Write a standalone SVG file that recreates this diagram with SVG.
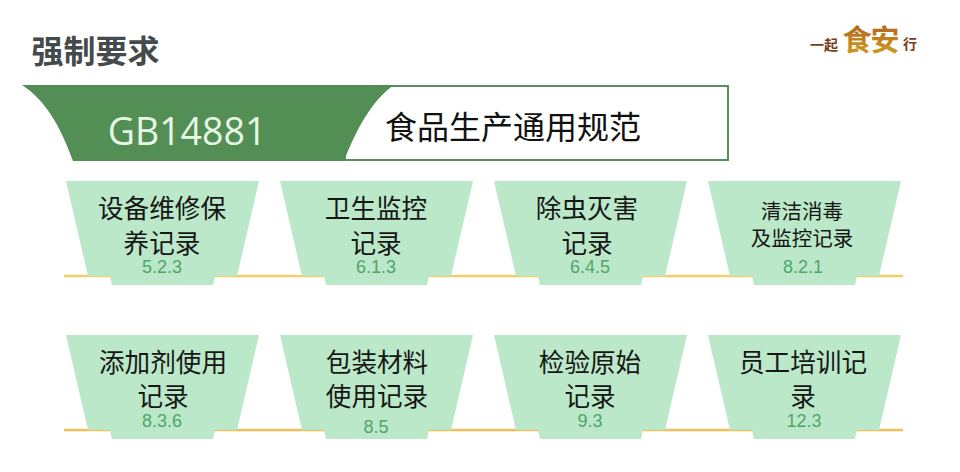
<svg xmlns="http://www.w3.org/2000/svg" width="960" height="472" viewBox="0 0 960 472">
<style>
text{font-family:"Noto Sans CJK SC","Liberation Sans",sans-serif;text-anchor:middle}
.t{font-size:25.6px;fill:#161616}
.s{font-size:20.5px;fill:#161616}
.n{font-family:"Liberation Sans",sans-serif;font-size:18px;fill:#4fa66b}
.c{fill:#bbe8c8}
.l{stroke:#f2cf6b;stroke-width:2.5;fill:none}
</style>
<defs>
<path id="cup" d="M0 0H193L171 95H149L147 104H46L44 95H22Z"/>
<linearGradient id="g" x1="0" y1="0" x2="0" y2="1"><stop offset="0" stop-color="#a85a1c"/><stop offset="1" stop-color="#d8a21e"/></linearGradient>
</defs>
<rect width="960" height="472" fill="#fff"/>
<text x="95.5" y="63" style="font-size:32px;font-weight:700;fill:#454a4c">强制要求</text>
<g id="logo">
<text x="824" y="50" style="font-size:14px;font-weight:700;fill:#7a3c16">一起</text>
<text x="857" y="51" style="font-size:29px;font-weight:700;fill:url(#g)">食</text>
<text x="885" y="51" style="font-size:29px;font-weight:700;fill:url(#g)">安</text>
<text x="910" y="49" style="font-size:14px;font-weight:700;fill:#7a3c16">行</text>
</g>
<g id="connectors">
<path class="l" d="M64 276H903"/>
<path class="l" d="M64 430H903" style="stroke:#f2bf5c"/>
</g>
<g id="banner">
<rect x="345" y="86" width="383" height="74" fill="#fff" stroke="#55905a" stroke-width="2"/>
<path d="M22 85H394C372 100 356 130 344 161H73C60 125 45 100 22 85Z" fill="#538e55"/>
<text x="187" y="145" style="font-family:'Open Sans','Liberation Sans',sans-serif;font-size:37.5px;fill:#e6f7e6">GB14881</text>
<text x="513" y="139" style="font-size:32px;fill:#111">食品生产通用规范</text>
</g>
<g id="n1"><use href="#cup" class="c" x="66" y="181"/><text class="t" x="162" y="218">设备维修保</text><text class="t" x="162" y="253">养记录</text><text class="n" x="162" y="273">5.2.3</text></g>
<g id="n2"><use href="#cup" class="c" x="280" y="181"/><text class="t" x="376" y="218">卫生监控</text><text class="t" x="376" y="253">记录</text><text class="n" x="376" y="273">6.1.3</text></g>
<g id="n3"><use href="#cup" class="c" x="494" y="181"/><text class="t" x="587" y="218">除虫灭害</text><text class="t" x="587" y="253">记录</text><text class="n" x="590" y="273">6.4.5</text></g>
<g id="n4"><use href="#cup" class="c" x="708" y="181"/><text class="s" x="802" y="219">清洁消毒</text><text class="s" x="802" y="246">及监控记录</text><text class="n" x="803" y="273">8.2.1</text></g>
<g id="n5"><use href="#cup" class="c" x="66" y="335"/><text class="t" x="163" y="372">添加剂使用</text><text class="t" x="163" y="406">记录</text><text class="n" x="162" y="427">8.3.6</text></g>
<g id="n6"><use href="#cup" class="c" x="280" y="335"/><text class="t" x="377" y="372">包装材料</text><text class="t" x="377" y="406">使用记录</text><text class="n" x="376" y="433">8.5</text></g>
<g id="n7"><use href="#cup" class="c" x="494" y="335"/><text class="t" x="590" y="372">检验原始</text><text class="t" x="590" y="406">记录</text><text class="n" x="590" y="427">9.3</text></g>
<g id="n8"><use href="#cup" class="c" x="708" y="335"/><text class="t" x="803" y="372">员工培训记</text><text class="t" x="803" y="406">录</text><text class="n" x="804" y="427">12.3</text></g>
</svg>
